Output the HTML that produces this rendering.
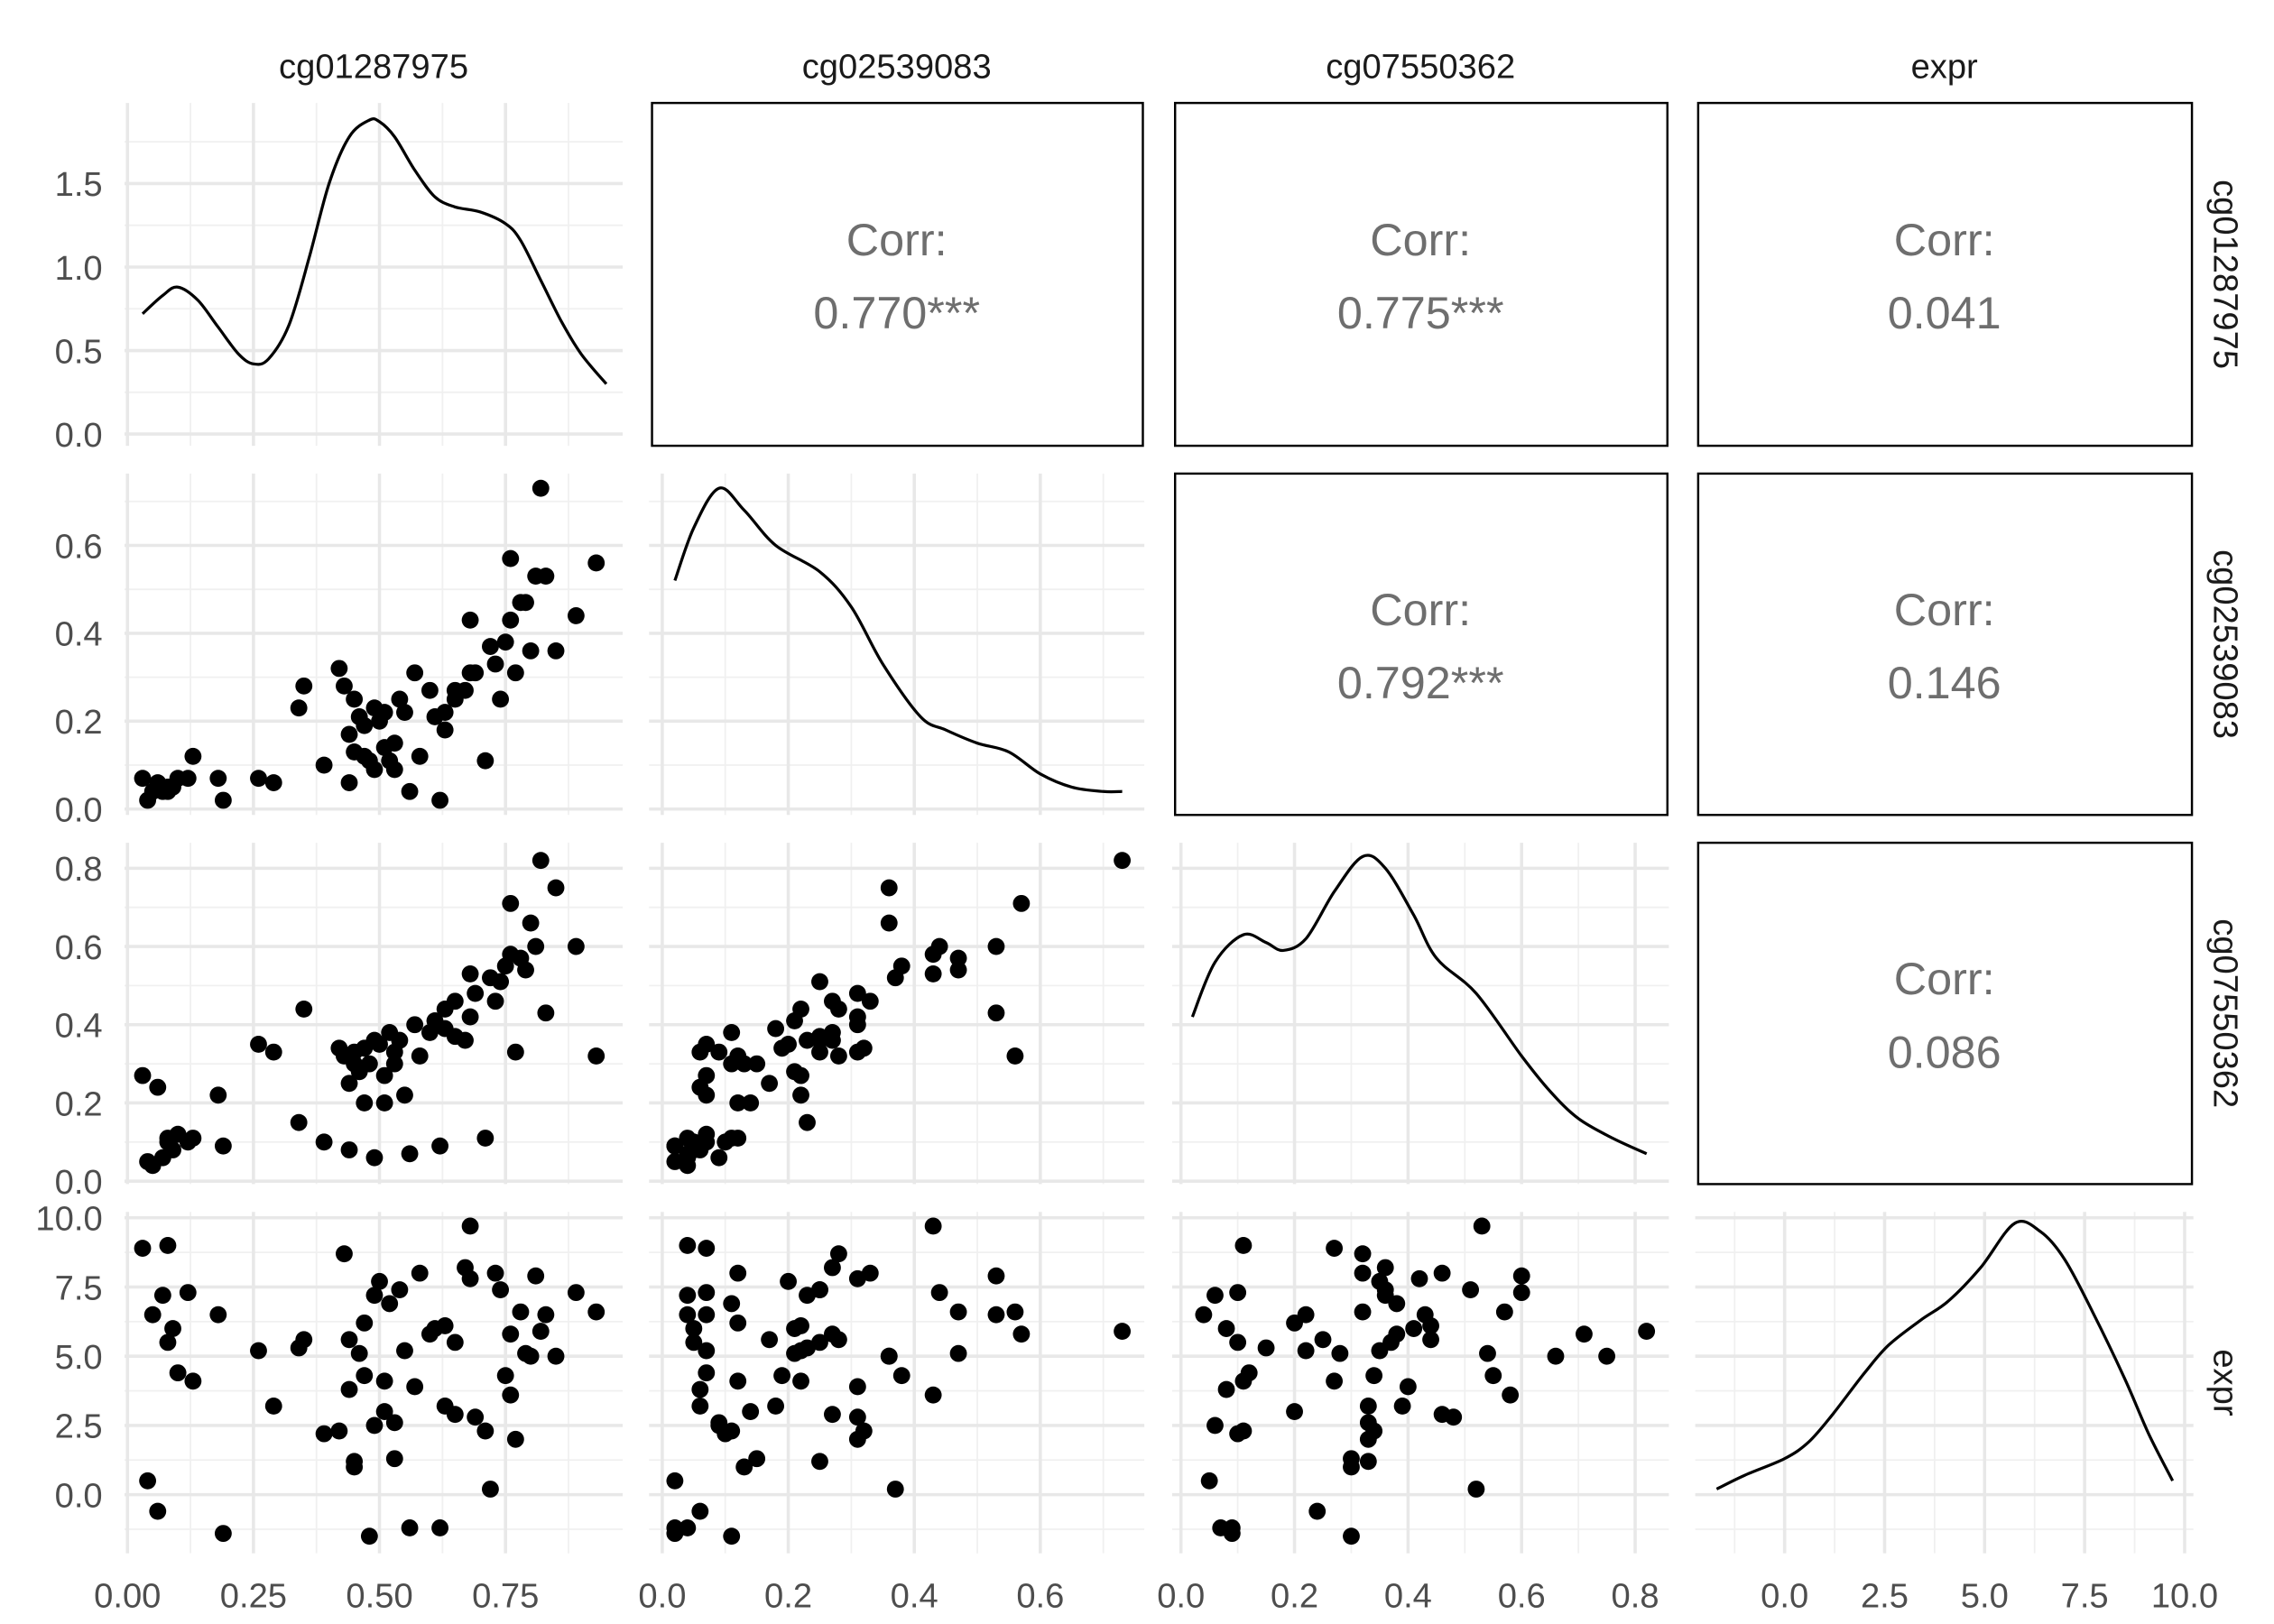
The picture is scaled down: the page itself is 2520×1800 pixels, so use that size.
<!DOCTYPE html>
<html><head><meta charset="utf-8"><style>
html,body{margin:0;padding:0;background:#fff;}
svg{display:block;}
</style></head><body>
<svg id="chart" width="2520" height="1800" viewBox="0 0 1552 1108" xmlns="http://www.w3.org/2000/svg" font-family="Liberation Sans, Arial, sans-serif"></svg>
<script>
// ---- data ----
const varNames = ["cg01287975","cg02539083","cg07550362","expr"];
const aVals = [.03,.04,.05,.06,.07,.08,.08,.09,.10,.12,.13,.18,.19,.26,.29,.34,.35,.39,.42,.43,.44,.44,.45,.45,.46,.47,.47,.48,.49,.49,.50,.51,.51,.52,.53,.53,.54,.55,.56,.57,.58,.60,.61,.62,.63,.63,.65,.65,.67,.68,.68,.69,.71,.72,.73,.74,.75,.76,.76,.77,.78,.79,.80,.81,.82,.83,.85,.89,.93];
const bVals = [.07,.02,.04,.06,.04,.05,.04,.05,.07,.07,.12,.07,.02,.07,.06,.23,.28,.10,.32,.28,.17,.06,.13,.25,.21,.12,.19,.11,.23,.09,.20,.22,.14,.11,.09,.15,.25,.22,.04,.31,.12,.27,.21,.02,.18,.22,.25,.27,.27,.31,.43,.31,.11,.37,.33,.25,.38,.43,.57,.31,.47,.47,.36,.53,.73,.53,.36,.44,.56];
const cVals = [.27,.05,.04,.24,.06,.10,.11,.08,.12,.10,.11,.22,.09,.35,.33,.15,.44,.10,.34,.32,.25,.08,.30,.33,.28,.20,.34,.30,.36,.06,.35,.27,.20,.38,.33,.30,.36,.22,.07,.40,.32,.38,.41,.09,.39,.44,.37,.46,.36,.42,.53,.48,.11,.52,.46,.51,.55,.58,.71,.33,.57,.54,.66,.60,.82,.43,.75,.60,.32];
const eVals = [8.9,0.5,6.5,-0.6,7.2,5.5,9.0,6.0,4.4,7.3,4.1,6.5,-1.4,5.2,3.2,5.3,5.6,2.2,2.3,8.7,5.6,3.8,1.0,1.2,5.1,6.2,4.3,-1.5,7.2,2.5,7.7,4.1,3.0,6.9,2.6,1.3,7.4,5.2,-1.2,3.9,8.0,5.8,6.0,-1.2,3.2,6.1,5.5,2.9,8.2,7.8,9.7,2.8,2.3,0.2,8.0,7.4,4.3,3.6,5.8,2.0,6.6,5.1,5.0,7.9,5.9,6.5,5.0,7.3,6.6];
// densities (x, y in panel axis units)
const densAx = [.03,.07,.10,.14,.18,.22,.25,.28,.32,.36,.40,.44,.48,.50,.53,.57,.61,.65,.70,.75,.78,.82,.86,.90,.95];
const densAy = [.72,.83,.88,.80,.64,.48,.42,.45,.65,1.05,1.50,1.78,1.88,1.87,1.78,1.58,1.42,1.36,1.33,1.26,1.16,.92,.68,.48,.30];
const densBx = [.02,.05,.09,.13,.18,.25,.30,.35,.41,.45,.50,.55,.60,.65,.70,.73];
const densBy = [.52,.64,.73,.68,.60,.54,.46,.33,.21,.18,.15,.13,.08,.05,.04,.04];
const densCx = [.02,.06,.11,.15,.18,.22,.27,.32,.36,.41,.45,.52,.60,.65,.70,.76,.82];
const densCy = [.42,.56,.63,.61,.59,.62,.74,.83,.80,.68,.57,.48,.32,.23,.16,.11,.07];
const densEx = [-1.7,-1.0,0.0,0.6,1.2,2.0,2.6,3.4,4.1,4.9,5.75,6.4,7.0,7.7,8.5,9.1,9.7];
const densEy = [0.2,0.7,1.3,1.9,2.9,4.4,5.4,6.3,7.0,8.2,9.8,9.5,8.5,6.6,4.2,2.2,0.5];
const corrText = [["0.770***","0.775***","0.041"],["0.792***","0.146"],["0.086"]];
const xTicks = [[0,.25,.5,.75],[0,.2,.4,.6],[0,.2,.4,.6,.8],[0,2.5,5,7.5,10]];
const xTickLabels = [["0.00","0.25","0.50","0.75"],["0.0","0.2","0.4","0.6"],["0.0","0.2","0.4","0.6","0.8"],["0.0","2.5","5.0","7.5","10.0"]];
const yTicks = [[0,.5,1,1.5],[0,.2,.4,.6],[0,.2,.4,.6,.8],[0,2.5,5,7.5,10]];
const yTickLabels = [["0.0","0.5","1.0","1.5"],["0.0","0.2","0.4","0.6"],["0.0","0.2","0.4","0.6","0.8"],["0.0","2.5","5.0","7.5","10.0"]];

// ---- layout ----
const colX = [[85,425],[443,781],[800,1139],[1157,1497]];
const rowY = [[70,304],[323,556],[575,808],[827,1060]];
const xS = [[87,344],[452,430],[806,387.5],[1218,27.3]];
const yS = [[296,-114],[552,-300],[806,-267],[1020,-18.9]];
const sx = (c,v)=>xS[c][0]+xS[c][1]*v;
const sy = (r,v)=>yS[r][0]+yS[r][1]*v;
const allVals = [aVals,bVals,cVals,eVals];
const dens = [[densAx,densAy],[densBx,densBy],[densCx,densCy],[densEx,densEy]];
const NS="http://www.w3.org/2000/svg";
const svg=document.getElementById('chart');
function mk(tag,attrs,parent){const e=document.createElementNS(NS,tag);for(const k in attrs)e.setAttribute(k,attrs[k]);(parent||svg).appendChild(e);return e;}

for(let i=0;i<4;i++){
  const t=mk('text',{x:(colX[i][0]+colX[i][1])/2,y:53,'text-anchor':'middle','font-size':23.5,fill:'#1a1a1a'});
  t.textContent=varNames[i];
  
  
  const cy=(rowY[i][0]+rowY[i][1])/2;
  const t2=mk('text',{x:1511,y:cy,'text-anchor':'middle','font-size':23.5,fill:'#1a1a1a',transform:`rotate(90 1511 ${cy})`});
  t2.textContent=varNames[i];
  
  
}

function grid(g,r,c){
  const [x0,x1]=colX[c],[y0,y1]=rowY[r];
  const xt=xTicks[c], yt=yTicks[r];
  const dx=xt[1]-xt[0], dy=yt[1]-yt[0];
  for(let v=xt[0]-dx/2; v<=xt[xt.length-1]+dx*1.5; v+=dx){const p=sx(c,v); if(p>=x0&&p<=x1) mk('line',{x1:p,x2:p,y1:y0,y2:y1,stroke:'#f0f0f0','stroke-width':1.1},g);}
  for(let v=yt[0]-dy/2; v<=yt[yt.length-1]+dy*1.5; v+=dy){const p=sy(r,v); if(p>=y0&&p<=y1) mk('line',{x1:x0,x2:x1,y1:p,y2:p,stroke:'#f0f0f0','stroke-width':1.1},g);}
  for(const v of xt){const p=sx(c,v); if(p>=x0-1&&p<=x1+1) mk('line',{x1:p,x2:p,y1:y0,y2:y1,stroke:'#e8e8e8','stroke-width':2.2},g);}
  for(const v of yt){const p=sy(r,v); if(p>=y0-1&&p<=y1+1) mk('line',{x1:x0,x2:x1,y1:p,y2:p,stroke:'#e8e8e8','stroke-width':2.2},g);}
}
function smoothPath(pts){
  let d='M'+pts[0][0].toFixed(1)+','+pts[0][1].toFixed(1);
  for(let i=0;i<pts.length-1;i++){
    const p0=pts[i-1]||pts[i],p1=pts[i],p2=pts[i+1],p3=pts[i+2]||p2;
    const c1=[p1[0]+(p2[0]-p0[0])/6,p1[1]+(p2[1]-p0[1])/6];
    const c2=[p2[0]-(p3[0]-p1[0])/6,p2[1]-(p3[1]-p1[1])/6];
    d+=`C${c1[0].toFixed(1)},${c1[1].toFixed(1)} ${c2[0].toFixed(1)},${c2[1].toFixed(1)} ${p2[0].toFixed(1)},${p2[1].toFixed(1)}`;
  }
  return d;
}

for(let r=0;r<4;r++)for(let c=0;c<4;c++){
  const g=mk('g',{});
  const [x0,x1]=colX[c],[y0,y1]=rowY[r];
  if(c>r){
    
    
    mk('rect',{x:x0+2,y:y0,width:x1-x0-3,height:y1-y0,fill:'none',stroke:'#000','stroke-width':1.5},g);
    const cx=(x0+x1)/2, cy=(y0+y1)/2;
    const t1=mk('text',{x:cx,y:cy-13,'text-anchor':'middle','font-size':31,fill:'#6e6e6e'},g);t1.textContent='Corr:';
    const t2=mk('text',{x:cx,y:cy+37,'text-anchor':'middle','font-size':31,fill:'#6e6e6e'},g);t2.textContent=corrText[r][c-r-1];
    continue;
  }
  grid(g,r,c);
  if(r===c){
    
    
    const [xs,ys]=dens[c];
    const pts=xs.map((x,i)=>[sx(c,x),sy(r,ys[i])]);
    const p=mk('path',{d:smoothPath(pts),fill:'none',stroke:'#000','stroke-width':2,'stroke-linejoin':'round'},g);
    
    
  } else {
    
    
    const X=allVals[c],Y=allVals[r];
    for(let i=0;i<X.length;i++){
      const pt=mk('circle',{cx:sx(c,X[i]),cy:sy(r,Y[i]),r:5.8,fill:'#000'},g);
      
      
    }
  }
}
for(let c=0;c<4;c++){xTicks[c].forEach((v,i)=>{
  const t=mk('text',{x:sx(c,v),y:1097,'text-anchor':'middle','font-size':23.5,fill:'#4d4d4d'});
  t.textContent=xTickLabels[c][i];
  
  
});}
for(let r=0;r<4;r++){yTicks[r].forEach((v,i)=>{
  const t=mk('text',{x:70,y:sy(r,v)+8.5,'text-anchor':'end','font-size':23.5,fill:'#4d4d4d'});
  t.textContent=yTickLabels[r][i];
  
  
});}
</script>
</body></html>
